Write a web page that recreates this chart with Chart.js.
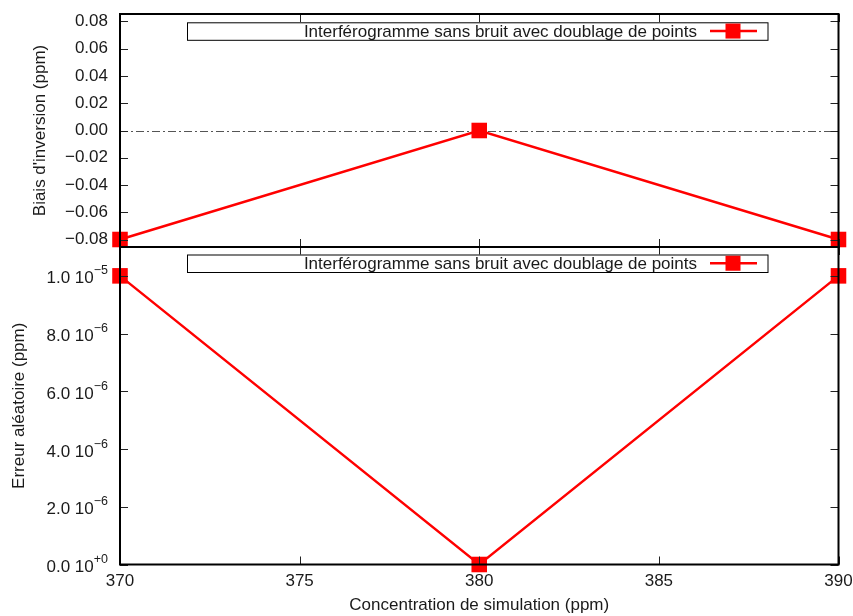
<!DOCTYPE html>
<html>
<head>
<meta charset="utf-8">
<script src="https://cdn.jsdelivr.net/npm/chart.js@4/dist/chart.umd.min.js"></script>
<style>
html, body { margin: 0; padding: 0; background: #fff; }
canvas { display: block; }
</style>
</head>
<body>
<canvas id="chart" width="853" height="616"></canvas>
<script>
// values
const concentrations = [370, 380, 390];
const inversionBias = [-0.08, 0.0, -0.08];
const randomError = [1.0e-5, 0.0, 1.0e-5];
const concTicks = [370, 375, 380, 385, 390];
const biasTicks = [-0.08, -0.06, -0.04, -0.02, 0, 0.02, 0.04, 0.06, 0.08];
const errorTicks = [0, 2e-6, 4e-6, 6e-6, 8e-6, 1e-5];
const seriesLabel = "Interférogramme sans bruit avec doublage de points";

const RED = "#ff0000";
const INK = "#1a1a1a";
const FONT = "'Liberation Sans', Arial, sans-serif";

Chart.defaults.font.family = FONT;
Chart.defaults.font.size = 17;
Chart.defaults.color = INK;

function points(ys) {
  return concentrations.map((x, i) => ({ x: x, y: ys[i] }));
}

function fixTicks(list) {
  return function (scale) { scale.ticks = list.map(v => ({ value: v })); };
}

// force the box size and drop the label overflow padding chart.js adds
function fixSize(w, h) {
  return function (s) {
    if (w) s.width = w;
    if (h) s.height = h;
    s.paddingTop = s.paddingBottom = s.paddingLeft = s.paddingRight = 0;
  };
}

function fmtBias(v) {
  if (Math.abs(v) < 1e-9) return "0.00";
  return v.toFixed(2).replace("-", "\u2212");
}

function drawKey(ctx, area, top) {
  const left = area.left + 67, right = area.left + 647.5, h = 17.5;
  const cy = top + h / 2;
  ctx.save();
  ctx.fillStyle = "#fff";
  ctx.fillRect(left, top, right - left, h);
  ctx.strokeStyle = "#000";
  ctx.lineWidth = 1;
  ctx.strokeRect(left + 0.5, top + 0.5, right - left, h);
  ctx.font = "17px " + FONT;
  ctx.fillStyle = INK;
  ctx.textAlign = "right";
  ctx.textBaseline = "middle";
  ctx.fillText(seriesLabel, right - 70.5, cy + 1);
  ctx.strokeStyle = RED;
  ctx.lineWidth = 2.5;
  ctx.beginPath();
  ctx.moveTo(right - 57.5, cy);
  ctx.lineTo(right - 10.5, cy);
  ctx.stroke();
  ctx.fillStyle = RED;
  ctx.fillRect(right - 42, cy - 7.5, 15, 15);
  ctx.restore();
}

const gnuFrame = {
  id: "gnuFrame",
  beforeDatasetsDraw(chart) {
    const ctx = chart.ctx, a = chart.chartArea, yt = chart.scales.yTop;
    const y0 = Math.round(yt.getPixelForValue(0)) + 0.5;
    ctx.save();
    ctx.strokeStyle = "#555";
    ctx.lineWidth = 1.2;
    ctx.setLineDash([8, 3, 2, 3]);
    ctx.beginPath();
    ctx.moveTo(a.left, y0);
    ctx.lineTo(a.right, y0);
    ctx.stroke();
    ctx.restore();
  },
  afterDatasetsDraw(chart) {
    const ctx = chart.ctx, a = chart.chartArea;
    const xs = chart.scales.x, yt = chart.scales.yTop, yb = chart.scales.yBot;
    ctx.save();
    ctx.strokeStyle = "#222";
    ctx.lineWidth = 1;
    ctx.beginPath();
    [yt, yb].forEach(s => {
      s.ticks.forEach(t => {
        const py = Math.round(s.getPixelForValue(t.value)) + 0.5;
        ctx.moveTo(a.left, py); ctx.lineTo(a.left + 8, py);
        ctx.moveTo(a.right - 8, py); ctx.lineTo(a.right, py);
      });
    });
    xs.ticks.forEach(t => {
      const px = Math.round(xs.getPixelForValue(t.value)) + 0.5;
      [yt, yb].forEach(s => {
        ctx.moveTo(px, s.top); ctx.lineTo(px, s.top + 8);
        ctx.moveTo(px, s.bottom - 8); ctx.lineTo(px, s.bottom);
      });
    });
    ctx.stroke();
    ctx.strokeStyle = "#000";
    ctx.lineWidth = 2;
    [yt, yb].forEach(s => {
      ctx.strokeRect(a.left, s.top, a.right - a.left, s.bottom - s.top);
    });
    ctx.restore();
  },
  afterDraw(chart) {
    const ctx = chart.ctx, a = chart.chartArea;
    const yt = chart.scales.yTop, yb = chart.scales.yBot;
    const edge = a.left - 12;
    ctx.save();
    ctx.fillStyle = INK;
    ctx.textAlign = "right";
    ctx.textBaseline = "alphabetic";
    yb.ticks.forEach(t => {
      const y = yb.getPixelForValue(t.value);
      const e = t.value === 0 ? 0 : Math.floor(Math.log10(t.value) + 1e-9);
      const mant = (t.value / Math.pow(10, e)).toFixed(1);
      const sup = e < 0 ? "\u2212" + (-e) : "+" + e;
      ctx.font = "12.5px " + FONT;
      const sw = ctx.measureText(sup).width;
      ctx.fillText(sup, edge, y - 1.5);
      ctx.font = "17px " + FONT;
      ctx.fillText(mant + " 10", edge - sw, y + 7.5);
    });
    ctx.restore();
    drawKey(ctx, a, yt.top + 8.3);
    drawKey(ctx, a, yb.top + 7.5);
  }
};

const lineStyle = {
  borderColor: RED,
  backgroundColor: RED,
  borderWidth: 2.5,
  pointStyle: "rect",
  pointRadius: 11,
  pointHoverRadius: 11,
  pointBorderWidth: 0,
  clip: false,
  tension: 0
};

const noGrid = { display: false, drawTicks: false };

new Chart(document.getElementById("chart").getContext("2d"), {
  type: "line",
  data: {
    datasets: [
      Object.assign({ label: seriesLabel, data: points(inversionBias), yAxisID: "yTop" }, lineStyle),
      Object.assign({ label: seriesLabel, data: points(randomError), yAxisID: "yBot" }, lineStyle)
    ]
  },
  options: {
    responsive: false,
    maintainAspectRatio: false,
    animation: false,
    events: [],
    layout: { padding: { top: 14, right: 14.5, left: 0, bottom: 0 } },
    plugins: { legend: { display: false }, tooltip: { enabled: false } },
    scales: {
      x: {
        type: "linear",
        min: 370,
        max: 390,
        afterBuildTicks: fixTicks(concTicks),
        afterFit: fixSize(0, 51.5),
        grid: noGrid,
        border: { display: false },
        ticks: { padding: 7, maxRotation: 0, autoSkip: false },
        title: { display: true, text: "Concentration de simulation (ppm)", padding: { top: 0, bottom: 0 } }
      },
      yBot: {
        type: "linear",
        position: "left",
        stack: "panels",
        stackWeight: 317.5,
        min: 0,
        max: 1.1e-5,
        afterBuildTicks: fixTicks(errorTicks),
        afterFit: fixSize(120, 0),
        grid: noGrid,
        border: { display: false },
        ticks: { display: false },
        title: { display: true, text: "Erreur aléatoire (ppm)", padding: { top: 9.5, bottom: 0 } }
      },
      yTop: {
        type: "linear",
        position: "left",
        stack: "panels",
        stackWeight: 233,
        min: -0.0855,
        max: 0.0855,
        afterBuildTicks: fixTicks(biasTicks),
        afterFit: fixSize(120, 0),
        grid: noGrid,
        border: { display: false },
        ticks: { padding: 12, autoSkip: false, callback: v => fmtBias(v) },
        title: { display: true, text: "Biais d'inversion (ppm)", padding: { top: 30, bottom: 0 } }
      }
    }
  },
  plugins: [gnuFrame]
});
</script>
</body>
</html>
